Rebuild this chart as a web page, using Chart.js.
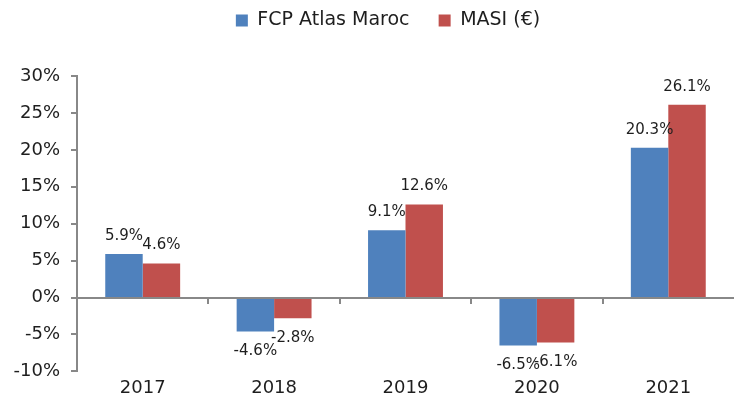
<!DOCTYPE html>
<html>
<head>
<meta charset="utf-8">
<script src="https://cdn.jsdelivr.net/npm/chart.js@4"></script>
<style>
  html, body { margin: 0; padding: 0; background: #fff; overflow: hidden; }
  #wrap { width: 734px; height: 405px; }
</style>
</head>
<body>
<div id="wrap"><canvas id="bar-chart"></canvas></div>
<script>
const YEARS = ['2017', '2018', '2019', '2020', '2021'];
const FCP_ATLAS = [5.9, -4.6, 9.1, -6.5, 20.3];
const MASI_EUR = [4.6, -2.8, 12.6, -6.1, 26.1];
const SERIES_NAMES = ['FCP Atlas Maroc', 'MASI (€)'];
const Y_MIN = -10, Y_MAX = 30, Y_STEP = 5;

const AXIS_GREY = '#888888';
const TEXT = '#1e1e1e';
// reference text is wide, DejaVu Sans is the closest installed width
const FONT = "'DejaVu Sans', 'Liberation Sans', Arial, sans-serif";

// value labels above / below each bar
const valueLabels = {
  id: 'valueLabels',
  afterDatasetsDraw(chart) {
    const ctx = chart.ctx;
    ctx.save();
    ctx.font = '15px ' + FONT;
    ctx.fillStyle = TEXT;
    ctx.textAlign = 'center';
    ctx.textBaseline = 'middle';
    chart.data.datasets.forEach((ds, i) => {
      chart.getDatasetMeta(i).data.forEach((bar, j) => {
        const v = ds.data[j];
        const txt = v.toFixed(1) + '%';
        ctx.fillText(txt, bar.x, v >= 0 ? bar.y - 18 : bar.y + 20);
      });
    });
    ctx.restore();
  }
};

// y axis line + ticks, zero line and small category tick marks
const axisLines = {
  id: 'axisLines',
  afterDraw(chart) {
    const { ctx, chartArea, scales: { x, y } } = chart;
    const y0 = Math.round(y.getPixelForValue(0));
    const xl = Math.round(chartArea.left);
    ctx.save();
    ctx.fillStyle = AXIS_GREY;
    ctx.fillRect(xl - 1, Math.round(chartArea.top) - 1, 2, Math.round(chartArea.bottom - chartArea.top) + 2);
    y.ticks.forEach(t => {
      const ty = Math.round(y.getPixelForValue(t.value));
      ctx.fillRect(xl - 6, ty - 1, 6, 2);
    });
    ctx.fillRect(xl, y0 - 1, Math.round(chartArea.right) - xl, 2);
    for (let i = 1; i < YEARS.length; i++) {
      const xb = Math.round((x.getPixelForValue(i - 1) + x.getPixelForValue(i)) / 2);
      ctx.fillRect(xb - 1, y0, 2, 6);
    }
    ctx.restore();
  }
};

// fixed legend block height, and nudge the legend row right like the reference
const legendFit = {
  id: 'legendFit',
  beforeInit(chart) {
    const fit = chart.legend.fit;
    chart.legend.fit = function () {
      fit.call(this);
      this.height = 76;
      if (this.lineWidths && this.lineWidths.length) this.lineWidths[0] -= 42;
    };
  }
};

new Chart(document.getElementById('bar-chart'), {
  type: 'bar',
  data: {
    labels: YEARS,
    datasets: [
      { label: SERIES_NAMES[0] + '\u00a0\u00a0\u00a0', data: FCP_ATLAS, backgroundColor: '#4F81BD' },
      { label: SERIES_NAMES[1], data: MASI_EUR,  backgroundColor: '#C0504D' },
    ],
  },
  options: {
    responsive: true,
    maintainAspectRatio: false,
    animation: false,
    categoryPercentage: 0.57,
    barPercentage: 1.0,
    layout: { padding: { top: 0, right: 0, bottom: 0, left: 0 } },
    plugins: {
      tooltip: { enabled: false },
      legend: {
        position: 'top',
        labels: {
          color: TEXT,
          font: { family: FONT, size: 19 },
          boxWidth: 12,
          boxHeight: 12,
          padding: 11,
        },
      },
    },
    scales: {
      x: {
        grid: { display: false, drawTicks: false },
        border: { display: false },
        ticks: { color: TEXT, font: { family: FONT, size: 18 }, padding: 6 },
      },
      y: {
        min: Y_MIN,
        max: Y_MAX,
        afterFit: s => { s.width = 77; },
        grid: { display: false, drawTicks: false },
        border: { display: false },
        ticks: {
          stepSize: Y_STEP,
          color: TEXT,
          font: { family: FONT, size: 18 },
          padding: 17,
          callback: v => v + '%',
        },
      },
    },
  },
  plugins: [valueLabels, axisLines, legendFit],
});
</script>
</body>
</html>
